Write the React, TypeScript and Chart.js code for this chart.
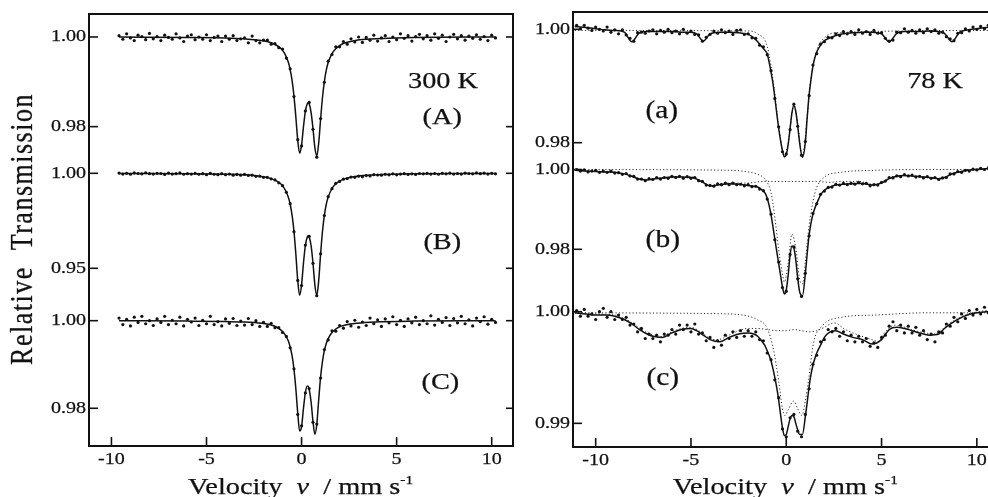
import React, { useEffect, useRef } from "react";
import { Chart, registerables } from "chart.js";

Chart.register(...registerables);

// ---------------- data: 300 K (left panel) ----------------
const VEL_300K = [
  -9.6, -9.4, -9.2, -9, -8.8, -8.6, -8.4, -8.2, -8, -7.8,
  -7.6, -7.4, -7.2, -7, -6.8, -6.6, -6.4, -6.2, -6, -5.8,
  -5.6, -5.4, -5.2, -5, -4.8, -4.6, -4.4, -4.2, -4, -3.8,
  -3.6, -3.4, -3.2, -3, -2.8, -2.6, -2.4, -2.2, -2, -1.8,
  -1.6, -1.4, -1.2, -1, -0.8, -0.6, -0.4, -0.2, 0, 0.2,
  0.4, 0.6, 0.8, 1, 1.2, 1.4, 1.6, 1.8, 2, 2.2,
  2.4, 2.6, 2.8, 3, 3.2, 3.4, 3.6, 3.8, 4, 4.2,
  4.4, 4.6, 4.8, 5, 5.2, 5.4, 5.6, 5.8, 6, 6.2,
  6.4, 6.6, 6.8, 7, 7.2, 7.4, 7.6, 7.8, 8, 8.2,
  8.4, 8.6, 8.8, 9, 9.2, 9.4, 9.6, 9.8, 10, 10.2,
];
const A_OBS = [
  1.0003, 0.9995, 1.0007, 0.9998, 0.9992, 1.0004, 1.0001, 0.9994, 1.0008, 0.9996,
  1.0001, 0.9992, 1.0004, 0.9999, 0.9995, 1.0007, 0.9998, 0.999, 1.0002, 1.0005,
  0.9994, 1.0, 0.9995, 1.0005, 0.9992, 0.9999, 1.0002, 0.999, 1.0002, 0.9995,
  1.0003, 0.9992, 0.9996, 0.9998, 0.9987, 1.0002, 0.9992, 0.9987, 0.9993, 0.9993,
  0.9984, 0.9985, 0.9976, 0.9973, 0.9953, 0.9929, 0.9867, 0.9771, 0.9757, 0.9835,
  0.9854, 0.9794, 0.9732, 0.9818, 0.9899, 0.9946, 0.9961, 0.9978, 0.9978, 0.999,
  0.9984, 0.9996, 0.9989, 1.0, 0.9988, 0.9999, 0.9993, 1.0004, 0.9991, 0.9998,
  1.0003, 0.999, 1.0, 0.9994, 1.0007, 0.9997, 1.0003, 0.9991, 1.0001, 1.0006,
  0.9996, 1.0003, 0.9993, 1.0007, 0.9997, 1.0004, 0.999, 1.0, 1.0006, 0.9996,
  1.0003, 0.9993, 1.0002, 0.9997, 1.0005, 0.9995, 1.0001, 0.9992, 1.0004, 0.9998,
];
const B_OBS = [
  1.0001, 0.9996, 1.0, 0.9995, 1.0002, 0.9999, 0.9997, 1.0003, 0.9998, 0.9996,
  1.0, 0.9999, 0.9994, 1.0001, 0.9996, 0.9998, 1.0002, 0.9995, 0.9998, 0.9996,
  1.0, 0.9995, 0.9998, 0.9993, 1.0, 0.9995, 0.9993, 0.9998, 0.9993, 0.9996,
  0.999, 0.9994, 0.999, 0.9994, 0.9989, 0.999, 0.9984, 0.9985, 0.9979, 0.9979,
  0.9971, 0.9965, 0.995, 0.9935, 0.99, 0.984, 0.9693, 0.9436, 0.9409, 0.9622,
  0.9668, 0.9526, 0.9356, 0.9576, 0.9778, 0.9877, 0.9919, 0.9947, 0.9957, 0.9969,
  0.9972, 0.998, 0.9979, 0.9985, 0.9982, 0.9988, 0.9986, 0.9993, 0.9991, 0.999,
  0.9995, 0.9992, 0.9997, 0.9992, 0.9996, 0.9998, 0.9994, 0.9997, 0.9994, 0.9999,
  0.9997, 1.0, 0.9996, 0.9999, 0.9995, 1.0, 0.9997, 1.0001, 0.9996, 0.9999,
  0.9996, 1.0001, 0.9999, 0.9997, 1.0002, 0.9998, 1.0001, 0.9996, 1.0, 0.9997,
];
const C_OBS = [
  1.0006, 0.9991, 1.0003, 0.9988, 1.0008, 0.9996, 1.001, 0.9993, 1.0, 0.9989,
  1.0004, 0.9996, 1.001, 0.9991, 1.0001, 0.9993, 1.0008, 0.9988, 1.0003, 0.9997,
  1.0006, 0.9989, 1.0001, 0.9993, 1.001, 0.9991, 0.9998, 0.9988, 1.0004, 0.9994,
  1.0005, 0.9989, 0.9999, 0.999, 1.0005, 0.9991, 1.0, 0.9987, 0.9996, 0.9987,
  0.9994, 0.9984, 0.9984, 0.9973, 0.9964, 0.9938, 0.989, 0.9786, 0.976, 0.9835,
  0.9845, 0.9768, 0.9764, 0.9869, 0.9934, 0.9956, 0.9977, 0.9976, 0.9989, 0.9983,
  0.9998, 0.9988, 1.0001, 0.9985, 0.9997, 0.9989, 1.0006, 0.9993, 1.0002, 0.9987,
  1.0004, 0.9995, 1.0009, 0.9991, 1.0001, 0.9987, 1.0004, 0.9995, 1.0008, 0.9991,
  1.0, 0.9993, 1.0011, 0.999, 1.0003, 0.9996, 1.0007, 0.9989, 1.0005, 0.9995,
  1.001, 0.9993, 1.0002, 0.9988, 1.0006, 0.9998, 1.0009, 0.9992, 1.0003, 0.9996,
];
const FIT_VEL_300K = [
  -9.6, -6, -4, -3, -2.1, -1.6, -1.3, -1.1, -0.9, -0.7, -0.6, -0.5, -0.4, -0.3, -0.2, -0.1, 0, 0.1, 0.2, 0.3,
  0.35, 0.4, 0.5, 0.6, 0.7, 0.8, 0.9, 1, 1.1, 1.2, 1.3, 1.4, 1.6, 1.8, 2, 2.3, 2.9, 3.9, 5.9, 10.2,
];
const A_FIT = [
  1.0, 0.9999, 0.9998, 0.9996, 0.9992, 0.9987, 0.9981, 0.9975, 0.9964, 0.9944, 0.9927, 0.9903, 0.9868, 0.9821, 0.9769, 0.9741, 0.9759, 0.98, 0.9834, 0.9851,
  0.9853, 0.9851, 0.9832, 0.9796, 0.9753, 0.9735, 0.9763, 0.9816, 0.9865, 0.9901, 0.9926, 0.9943, 0.9963, 0.9974, 0.9981, 0.9987, 0.9993, 0.9996, 0.9999, 1.0,
];
const B_FIT = [
  0.9999, 0.9998, 0.9995, 0.9992, 0.9983, 0.9972, 0.9959, 0.9945, 0.992, 0.9875, 0.9837, 0.978, 0.9695, 0.9573, 0.9434, 0.9358, 0.9412, 0.9528, 0.962, 0.9665,
  0.9671, 0.9665, 0.962, 0.9528, 0.9412, 0.9358, 0.9434, 0.9573, 0.9695, 0.978, 0.9837, 0.9875, 0.992, 0.9945, 0.9959, 0.9972, 0.9985, 0.9992, 0.9997, 0.9999,
];
const C_FIT = [
  1.0, 0.9999, 0.9998, 0.9997, 0.9994, 0.999, 0.9985, 0.9979, 0.997, 0.9954, 0.994, 0.992, 0.9889, 0.9844, 0.9788, 0.9748, 0.9758, 0.98, 0.9836, 0.9851,
  0.985, 0.9843, 0.9815, 0.977, 0.9741, 0.9763, 0.9819, 0.9871, 0.9907, 0.9932, 0.9948, 0.9959, 0.9973, 0.9981, 0.9986, 0.999, 0.9994, 0.9997, 0.9999, 1.0,
];

// ---------------- data: 78 K (right panel) ----------------
const VEL_78K = [
  -11, -10.8, -10.6, -10.4, -10.2, -10, -9.8, -9.6, -9.4, -9.2,
  -9, -8.8, -8.6, -8.4, -8.2, -8, -7.8, -7.6, -7.4, -7.2,
  -7, -6.8, -6.6, -6.4, -6.2, -6, -5.8, -5.6, -5.4, -5.2,
  -5, -4.8, -4.6, -4.4, -4.2, -4, -3.8, -3.6, -3.4, -3.2,
  -3, -2.8, -2.6, -2.4, -2.2, -2, -1.8, -1.6, -1.4, -1.2,
  -1, -0.8, -0.6, -0.4, -0.2, 0, 0.2, 0.4, 0.6, 0.8,
  1, 1.2, 1.4, 1.6, 1.8, 2, 2.2, 2.4, 2.6, 2.8,
  3, 3.2, 3.4, 3.6, 3.8, 4, 4.2, 4.4, 4.6, 4.8,
  5, 5.2, 5.4, 5.6, 5.8, 6, 6.2, 6.4, 6.6, 6.8,
  7, 7.2, 7.4, 7.6, 7.8, 8, 8.2, 8.4, 8.6, 8.8,
  9, 9.2, 9.4, 9.6, 9.8, 10, 10.2, 10.4, 10.6, 10.8,
];
const a_OBS = [
  1.0007, 1.0001, 1.0007, 1.0002, 0.9998, 1.0004, 1.0, 0.9997, 1.0004, 0.9995,
  0.9999, 0.9992, 0.9999, 0.999, 0.9984, 0.9979, 0.9994, 0.9995, 0.9993, 0.9997,
  0.9999, 0.9992, 0.9998, 0.9995, 1.0, 0.9994, 0.9997, 0.9992, 1.0, 0.9993,
  0.9997, 0.9991, 0.999, 0.9979, 0.9986, 0.9991, 0.9997, 0.9993, 0.9999, 0.9994,
  0.9997, 0.9991, 0.9998, 0.9999, 0.9991, 0.9992, 0.9985, 0.9984, 0.9972, 0.9969,
  0.9955, 0.9927, 0.9878, 0.9828, 0.9784, 0.978, 0.9823, 0.9868, 0.9829, 0.9778,
  0.9802, 0.9883, 0.9937, 0.9957, 0.9974, 0.9978, 0.9986, 0.9985, 0.9992, 0.9989,
  0.9996, 0.9992, 0.9996, 0.9991, 0.9999, 0.9993, 0.9996, 0.9991, 0.9998, 0.9993,
  0.9994, 0.9984, 0.9979, 0.9981, 0.9995, 0.9994, 1.0001, 0.9995, 0.9998, 0.9993,
  0.9999, 0.9994, 1.0001, 0.9996, 0.9999, 0.9993, 0.9995, 0.9987, 0.9983, 0.998,
  0.9993, 0.9994, 1.0001, 0.9997, 1.0004, 1.0, 1.0005, 1.0001, 1.0007, 1.0005,
];
const b_OBS = [
  1.0, 0.9996, 0.9999, 0.9994, 0.9996, 0.9998, 0.9993, 0.9996, 0.9993, 0.9996,
  0.9991, 0.9992, 0.9988, 0.999, 0.9984, 0.9983, 0.9976, 0.9976, 0.9972, 0.9977,
  0.9975, 0.998, 0.9976, 0.998, 0.9978, 0.9983, 0.998, 0.9983, 0.9978, 0.9982,
  0.9978, 0.998, 0.9972, 0.997, 0.9961, 0.996, 0.9958, 0.9964, 0.9962, 0.9966,
  0.9962, 0.9966, 0.9962, 0.9963, 0.9959, 0.9962, 0.9957, 0.9958, 0.9951, 0.9947,
  0.9926, 0.9888, 0.9824, 0.9768, 0.9704, 0.9695, 0.9787, 0.9806, 0.9726, 0.9682,
  0.974, 0.9834, 0.989, 0.9914, 0.9938, 0.9946, 0.9955, 0.9956, 0.9963, 0.9961,
  0.9965, 0.9962, 0.9965, 0.9963, 0.9968, 0.9964, 0.9965, 0.9959, 0.9962, 0.9961,
  0.9968, 0.9971, 0.998, 0.9979, 0.9984, 0.9982, 0.9987, 0.9984, 0.9986, 0.9981,
  0.9983, 0.9979, 0.9982, 0.9978, 0.998, 0.9975, 0.9979, 0.998, 0.9989, 0.9989,
  0.9995, 0.9993, 0.9998, 0.9996, 1.0001, 0.9999, 1.0003, 1.0, 1.0004, 1.0002,
];
const c_OBS = [
  1.0001, 0.9996, 1.0002, 0.9996, 0.9998, 0.9993, 1.0, 1.0003, 0.9995, 1.0,
  0.9993, 0.9997, 0.9993, 0.9995, 0.9988, 0.9989, 0.9982, 0.9985, 0.9976, 0.998,
  0.9976, 0.9979, 0.9973, 0.998, 0.9979, 0.9984, 0.998, 0.9988, 0.9984, 0.9988,
  0.9982, 0.9989, 0.998, 0.9981, 0.9974, 0.9977, 0.9968, 0.9974, 0.997, 0.9979,
  0.9976, 0.9982, 0.9977, 0.9983, 0.9978, 0.9983, 0.9978, 0.9982, 0.9975, 0.9974,
  0.9963, 0.9957, 0.9939, 0.9923, 0.9895, 0.9888, 0.9905, 0.9908, 0.9893, 0.9888,
  0.9908, 0.9931, 0.9953, 0.9961, 0.9973, 0.9975, 0.9984, 0.9982, 0.9985, 0.9978,
  0.9982, 0.9974, 0.9979, 0.9973, 0.9978, 0.9973, 0.9976, 0.9969, 0.9972, 0.9968,
  0.9977, 0.9979, 0.9987, 0.9991, 0.9983, 0.9988, 0.9981, 0.9987, 0.9981, 0.9986,
  0.9979, 0.9983, 0.9975, 0.998, 0.9973, 0.9982, 0.9981, 0.9989, 0.9987, 0.9995,
  0.9991, 0.9998, 0.9994, 1.0001, 0.9997, 1.0002, 0.9998, 1.0004, 0.9999, 1.0004,
];
const FIT_VEL_78K = [
  -11.1, -10.5, -10, -9.5, -9, -8.5, -8.1, -7.7, -7.3, -7, -6.5, -6, -5.5, -5, -4.7, -4.35, -4, -3.5, -3, -2.5,
  -2, -1.7, -1.5, -1.3, -1.1, -1, -0.9, -0.8, -0.7, -0.6, -0.5, -0.4, -0.3, -0.2, -0.1, 0, 0.1, 0.2, 0.3, 0.4,
  0.5, 0.6, 0.7, 0.85, 1, 1.1, 1.2, 1.3, 1.4, 1.5, 1.6, 1.8, 2, 2.3, 2.6, 3, 3.5, 4, 4.5, 5,
  5.4, 5.8, 6.2, 6.6, 7, 7.5, 8, 8.3, 8.7, 9.1, 9.5, 10, 10.5, 11.1,
];
const a_FIT = [
  1.0005, 1.0003, 1.0001, 0.9999, 0.9998, 0.9995, 0.9978, 0.9994, 0.9996, 0.9996, 0.9996, 0.9996, 0.9995, 0.9995, 0.9992, 0.9979, 0.9992, 0.9995, 0.9995, 0.9994,
  0.9991, 0.9985, 0.9978, 0.997, 0.9962, 0.9957, 0.9942, 0.9925, 0.9905, 0.988, 0.9852, 0.9826, 0.9804, 0.9786, 0.9775, 0.9779, 0.9797, 0.9825, 0.9853, 0.9865,
  0.9855, 0.983, 0.98, 0.9774, 0.98, 0.9845, 0.9885, 0.9912, 0.9935, 0.995, 0.996, 0.9972, 0.998, 0.9985, 0.9989, 0.9992, 0.9994, 0.9995, 0.9995, 0.9992,
  0.9978, 0.9993, 0.9996, 0.9996, 0.9996, 0.9997, 0.9996, 0.9993, 0.9978, 0.9995, 0.9999, 1.0001, 1.0003, 1.0004,
];
const b_FIT = [
  0.9998, 0.9996, 0.9995, 0.9994, 0.9993, 0.9989, 0.9983, 0.9976, 0.9974, 0.9976, 0.9979, 0.9981, 0.9981, 0.998, 0.9976, 0.9967, 0.9959, 0.9962, 0.9964, 0.9963,
  0.996, 0.9958, 0.9956, 0.995, 0.994, 0.9928, 0.991, 0.9886, 0.9857, 0.9826, 0.9795, 0.9765, 0.9735, 0.9706, 0.9688, 0.9698, 0.9735, 0.9785, 0.9808, 0.9803,
  0.9773, 0.9728, 0.9694, 0.9683, 0.9738, 0.979, 0.9836, 0.9866, 0.9888, 0.9903, 0.9915, 0.9936, 0.9948, 0.9956, 0.9961, 0.9963, 0.9965, 0.9965, 0.9961, 0.9966,
  0.9977, 0.9983, 0.9985, 0.9984, 0.9982, 0.998, 0.9977, 0.998, 0.9989, 0.9994, 0.9998, 1.0, 1.0002, 1.0003,
];
const c_FIT = [
  0.9999, 0.9998, 0.9997, 0.9997, 0.9996, 0.9993, 0.9989, 0.9984, 0.998, 0.9978, 0.9977, 0.9981, 0.9984, 0.9985, 0.9983, 0.9979, 0.9975, 0.9973, 0.9977, 0.998,
  0.9981, 0.998, 0.9978, 0.9974, 0.9969, 0.9965, 0.9961, 0.9956, 0.9949, 0.9941, 0.9932, 0.9921, 0.9908, 0.9896, 0.9889, 0.989, 0.9897, 0.9904, 0.9907, 0.9906,
  0.99, 0.9894, 0.989, 0.989, 0.9906, 0.9919, 0.9933, 0.9944, 0.9952, 0.9958, 0.9963, 0.997, 0.9977, 0.9982, 0.9983, 0.998, 0.9977, 0.9975, 0.9971, 0.9975,
  0.9984, 0.9986, 0.9985, 0.9983, 0.9981, 0.9979, 0.998, 0.9985, 0.999, 0.9994, 0.9997, 0.9999, 1.0, 1.0001,
];
// fitted sub-spectra (dotted): paramagnetic doublet and magnetic sextet components
const a_DOUBLET_VEL = [-11.1, -2, -1.5, -1, -0.7, -0.4, -0.1, 0.1, 0.4, 0.6, 0.85, 1.1, 1.3, 1.6, 2, 2.6, 11.1];
const a_DOUBLET = [0.9998, 0.9997, 0.9992, 0.997, 0.9912, 0.983, 0.9778, 0.9799, 0.9867, 0.9832, 0.9776, 0.9847, 0.9915, 0.9963, 0.9985, 0.9994, 0.9998];
const b_DOUBLET_VEL = [-11.1, -3, -2, -1.5, -1.2, -1, -0.8, -0.6, -0.4, -0.2, -0.1, 0.1, 0.3, 0.5, 0.7, 0.85, 1, 1.2, 1.4, 1.6, 2, 2.9, 4.7, 8.2, 11.1];
const b_DOUBLET = [1.0, 0.9998, 0.9994, 0.9988, 0.998, 0.9968, 0.9942, 0.988, 0.98, 0.9738, 0.9718, 0.9765, 0.9838, 0.9803, 0.9725, 0.9713, 0.977, 0.986, 0.992, 0.9955, 0.9981, 0.9993, 0.9998, 1.0, 1.0];
const b_SEXTET_VEL = [-11.1, -10, -9, -8.5, -8, -7.5, -7, -6, -5, -4.5, -4, -3.5, -3, -2.5, -2, -1.5, -1, -0.5, 0.4, 1.4, 1.9, 2.3, 2.9, 3.8, 4.66, 5.36, 6.07, 7.3, 8.18, 8.7, 9.55, 10.3, 11.1];
const b_SEXTET = [0.9998, 0.9995, 0.9993, 0.9989, 0.9981, 0.9974, 0.9977, 0.9981, 0.9982, 0.9972, 0.9959, 0.9965, 0.9966, 0.9966, 0.9966, 0.9969, 0.997, 0.997, 0.997, 0.997, 0.9969, 0.9968, 0.997, 0.997, 0.9962, 0.9978, 0.9985, 0.9981, 0.9977, 0.9989, 0.9998, 1.0002, 1.0003];
const c_DOUBLET_VEL = [-11.1, -3, -2, -1.54, -1, -0.67, -0.4, -0.2, -0.07, 0.1, 0.38, 0.6, 0.82, 1, 1.17, 1.43, 1.87, 2.9, 4.66, 7.3, 11.1];
const c_DOUBLET = [0.9999, 0.9998, 0.9996, 0.9993, 0.9985, 0.9966, 0.9938, 0.9913, 0.9907, 0.9912, 0.992, 0.9913, 0.9907, 0.992, 0.9939, 0.9972, 0.9987, 0.9995, 0.9997, 0.9999, 0.9999];
const c_SEXTET_VEL = [-11.1, -10, -9, -8.5, -8, -7.5, -7, -6.8, -6.5, -6, -5.5, -5, -4.5, -4, -3.6, -3, -2.5, -2, -1.5, -1, -0.5, 0, 0.4, 0.8, 1.2, 1.6, 2, 2.5, 3.1, 3.8, 4.66, 4.8, 5.2, 5.7, 6.76, 7.8, 8.5, 9.4, 10.45, 11.1];
const c_SEXTET = [1.0, 0.9998, 0.9997, 0.9994, 0.9989, 0.9983, 0.9979, 0.9977, 0.9978, 0.9982, 0.9985, 0.9986, 0.9982, 0.9976, 0.9975, 0.9979, 0.9983, 0.9985, 0.9985, 0.9984, 0.9983, 0.9983, 0.9984, 0.9983, 0.9982, 0.9983, 0.9986, 0.999, 0.9984, 0.9979, 0.9974, 0.9973, 0.9982, 0.9988, 0.9983, 0.998, 0.9989, 0.9997, 1.0001, 1.0002];

// ---------------- tick labels ----------------
const X_TICKS = [-10, -5, 0, 5, 10];
const TICKS_A = [1.0, 0.98];
const TICKS_B = [1.0, 0.95];
const TICKS_C = [1.0, 0.98];
const TICKS_a = [1.0, 0.98];
const TICKS_b = [1.0, 0.98];
const TICKS_c = [1.0, 0.99];

// ---------------- styling / layout ----------------
const SERIF = '"Liberation Serif", "Times New Roman", "DejaVu Serif", serif';
const INK = "#111111";
const STRETCH = 1.18;

type Curve = { vel: number[]; val: number[] };
type Spectrum = {
  id: string;
  ticks: number[];
  range: [number, number];
  stackWeight: number;
  obs: Curve;
  fit: Curve;
  dotted: Curve[];
};
type Note = { text: string; v: number; t: number; axis: string; size: number };
type Panel = {
  width: number;
  xRange: [number, number];
  yAxisWidth: number;
  xAxisHeight: number;
  padding: { left: number; right: number; top: number; bottom: number };
  spectra: Spectrum[];
  notes: Note[];
  yTitle: boolean;
  rightTicks: boolean;
};

const PANEL_300K: Panel = {
  width: 520,
  xRange: [-11.18, 11.12],
  yAxisWidth: 89,
  xAxisHeight: 51,
  padding: { left: 0, right: 7, top: 14, bottom: 0 },
  yTitle: true,
  rightTicks: true,
  spectra: [
    { id: "yA", ticks: TICKS_A, range: [0.97256, 1.00513], stackWeight: 146,
      obs: { vel: VEL_300K, val: A_OBS }, fit: { vel: FIT_VEL_300K, val: A_FIT }, dotted: [] },
    { id: "yB", ticks: TICKS_B, range: [0.93068, 1.007], stackWeight: 145,
      obs: { vel: VEL_300K, val: B_OBS }, fit: { vel: FIT_VEL_300K, val: B_FIT }, dotted: [] },
    { id: "yC", ticks: TICKS_C, range: [0.97139, 1.00358], stackWeight: 141,
      obs: { vel: VEL_300K, val: C_OBS }, fit: { vel: FIT_VEL_300K, val: C_FIT }, dotted: [] },
  ],
  notes: [
    { text: "300 K", v: 7.44, t: 0.98996, axis: "yA", size: 24 },
    { text: "(A)", v: 7.4, t: 0.98193, axis: "yA", size: 24 },
    { text: "(B)", v: 7.4, t: 0.96332, axis: "yB", size: 24 },
    { text: "(C)", v: 7.3, t: 0.98578, axis: "yC", size: 24 },
  ],
};

const PANEL_78K: Panel = {
  width: 490,
  xRange: [-11.19, 11.11],
  yAxisWidth: 53,
  xAxisHeight: 50,
  padding: { left: 0, right: 12, top: 12, bottom: 0 },
  yTitle: false,
  rightTicks: true,
  spectra: [
    { id: "ya", ticks: TICKS_a, range: [0.97642, 1.00305], stackWeight: 151,
      obs: { vel: VEL_78K, val: a_OBS }, fit: { vel: FIT_VEL_78K, val: a_FIT },
      dotted: [{ vel: a_DOUBLET_VEL, val: a_DOUBLET }] },
    { id: "yb", ticks: TICKS_b, range: [0.96654, 1.00163], stackWeight: 140,
      obs: { vel: VEL_78K, val: b_OBS }, fit: { vel: FIT_VEL_78K, val: b_FIT },
      dotted: [{ vel: b_DOUBLET_VEL, val: b_DOUBLET }, { vel: b_SEXTET_VEL, val: b_SEXTET }] },
    { id: "yc", ticks: TICKS_c, range: [0.98788, 1.00078], stackWeight: 144,
      obs: { vel: VEL_78K, val: c_OBS }, fit: { vel: FIT_VEL_78K, val: c_FIT },
      dotted: [{ vel: c_DOUBLET_VEL, val: c_DOUBLET }, { vel: c_SEXTET_VEL, val: c_SEXTET }] },
  ],
  notes: [
    { text: "78 K", v: 7.81, t: 0.99071, axis: "ya", size: 24 },
    { text: "(a)", v: -6.53, t: 0.98559, axis: "ya", size: 25 },
    { text: "(b)", v: -6.48, t: 0.98233, axis: "yb", size: 25 },
    { text: "(c)", v: -6.48, t: 0.99406, axis: "yc", size: 25 },
  ],
};

const toPoints = (c: Curve) => c.vel.map((v, i) => ({ x: v, y: c.val[i] }));

function drawStretched(
  ctx: CanvasRenderingContext2D, text: string, x: number, y: number, size: number,
  align: CanvasTextAlign, baseline: CanvasTextBaseline, italic = false,
) {
  ctx.save();
  ctx.font = `${italic ? "italic " : ""}${size}px ${SERIF}`;
  ctx.textAlign = align;
  ctx.textBaseline = baseline;
  ctx.fillStyle = INK;
  ctx.strokeStyle = INK;
  ctx.lineWidth = 0.25;
  ctx.translate(x, y);
  ctx.scale(STRETCH, 1);
  ctx.fillText(text, 0, 0);
  ctx.strokeText(text, 0, 0);
  ctx.restore();
}

const TITLE_PARTS = [
  { text: "Velocity  ", italic: false, sup: false },
  { text: "v", italic: true, sup: false },
  { text: "  / mm s", italic: false, sup: false },
  { text: "-1", italic: false, sup: true },
];

function drawXTitle(ctx: CanvasRenderingContext2D, cx: number, baseline: number) {
  const size = 24;
  ctx.save();
  const widths = TITLE_PARTS.map((p) => {
    ctx.font = `${p.italic ? "italic " : ""}${p.sup ? 13 : size}px ${SERIF}`;
    return ctx.measureText(p.text).width;
  });
  const total = widths.reduce((s, w) => s + w, 0) * STRETCH;
  let x = cx - total / 2;
  TITLE_PARTS.forEach((p, i) => {
    drawStretched(ctx, p.text, x, p.sup ? baseline - 10 : baseline, p.sup ? 13 : size, "left", "alphabetic", p.italic);
    x += widths[i] * STRETCH;
  });
  ctx.restore();
}

function decorPlugin(panel: Panel) {
  return {
    id: "decor",
    afterDraw(chart: any) {
      const ctx: CanvasRenderingContext2D = chart.ctx;
      const a = chart.chartArea;
      const xs = chart.scales.x;
      ctx.save();
      ctx.strokeStyle = INK;
      ctx.lineWidth = 2;
      ctx.strokeRect(a.left, a.top, a.right - a.left, a.bottom - a.top);

      const seg = (x1: number, y1: number, x2: number, y2: number) => {
        ctx.beginPath();
        ctx.moveTo(x1, y1);
        ctx.lineTo(x2, y2);
        ctx.stroke();
      };
      ctx.lineWidth = 1.6;
      for (const v of X_TICKS) {
        const px = xs.getPixelForValue(v);
        seg(px, a.bottom, px, a.bottom - 9);
        drawStretched(ctx, String(v), px, a.bottom + 14, 17, "center", "middle");
      }
      for (const s of panel.spectra) {
        const sc = chart.scales[s.id];
        for (const t of s.ticks) {
          const py = sc.getPixelForValue(t);
          seg(a.left, py, a.left + 9, py);
          if (panel.rightTicks) seg(a.right, py, a.right - 7, py);
          drawStretched(ctx, t.toFixed(2), a.left - 3, py, 17, "right", "middle");
        }
      }
      for (const n of panel.notes) {
        const sc = chart.scales[n.axis];
        drawStretched(ctx, n.text, xs.getPixelForValue(n.v), sc.getPixelForValue(n.t), n.size, "center", "middle");
      }
      drawXTitle(ctx, xs.getPixelForValue(0) - 1, 494);

      if (panel.yTitle) {
        ctx.save();
        ctx.translate(24, 229);
        ctx.rotate(-Math.PI / 2);
        ctx.scale(1, STRETCH);
        ctx.font = `26px ${SERIF}`;
        (ctx as any).letterSpacing = "1.5px";
        ctx.fillStyle = INK;
        ctx.strokeStyle = INK;
        ctx.lineWidth = 0.25;
        ctx.textAlign = "center";
        ctx.textBaseline = "middle";
        ctx.fillText("Relative  Transmission", 0, 0);
        ctx.strokeText("Relative  Transmission", 0, 0);
        ctx.restore();
      }
      ctx.restore();
    },
  };
}

function buildConfig(panel: Panel): any {
  const datasets: any[] = [];
  panel.spectra.forEach((s) => {
    datasets.push({
      data: toPoints(s.obs), xAxisID: "x", yAxisID: s.id, showLine: false,
      pointRadius: 1.6, pointBackgroundColor: INK, pointBorderWidth: 0, order: 0,
    });
    datasets.push({
      data: toPoints(s.fit), xAxisID: "x", yAxisID: s.id, showLine: true, pointRadius: 0,
      borderColor: INK, borderWidth: 1.5, cubicInterpolationMode: "monotone", order: 1,
    });
    s.dotted.forEach((d) =>
      datasets.push({
        data: toPoints(d), xAxisID: "x", yAxisID: s.id, showLine: true, pointRadius: 0,
        borderColor: "#2a2a2a", borderWidth: 1, borderDash: [1.2, 2.2],
        cubicInterpolationMode: "monotone", order: 2,
      }),
    );
  });

  const scales: any = {
    x: {
      type: "linear", position: "bottom", min: panel.xRange[0], max: panel.xRange[1],
      grid: { display: false, drawTicks: false }, border: { display: false },
      ticks: { display: false },
      afterFit: (sc: any) => { sc.height = panel.xAxisHeight; },
    },
  };
  panel.spectra.forEach((s, i) => {
    scales[s.id] = {
      type: "linear", position: "left", stack: "spectra", stackWeight: s.stackWeight,
      weight: panel.spectra.length - i, min: s.range[0], max: s.range[1],
      grid: { display: false, drawTicks: false }, border: { display: false },
      ticks: { display: false },
      afterFit: (sc: any) => { sc.width = panel.yAxisWidth; },
    };
  });

  return {
    type: "scatter",
    data: { datasets },
    options: {
      responsive: false,
      animation: false,
      devicePixelRatio: 1,
      events: [],
      layout: { padding: panel.padding, autoPadding: false },
      plugins: { legend: { display: false }, tooltip: { enabled: false }, title: { display: false } },
      scales,
    },
    plugins: [decorPlugin(panel)],
  };
}

export default function App() {
  const leftRef = useRef<HTMLCanvasElement | null>(null);
  const rightRef = useRef<HTMLCanvasElement | null>(null);

  useEffect(() => {
    const charts: Chart[] = [];
    if (leftRef.current) charts.push(new Chart(leftRef.current, buildConfig(PANEL_300K)));
    if (rightRef.current) charts.push(new Chart(rightRef.current, buildConfig(PANEL_78K)));
    return () => charts.forEach((c) => c.destroy());
  }, []);

  return (
    <div style={{ position: "absolute", left: 0, top: 0, width: 988, height: 497, overflow: "hidden", background: "#fff" }}>
      <canvas ref={leftRef} width={PANEL_300K.width} height={497}
        style={{ position: "absolute", left: 0, top: 0, width: PANEL_300K.width, height: 497 }} />
      <canvas ref={rightRef} width={PANEL_78K.width} height={497}
        style={{ position: "absolute", left: 520, top: 0, width: PANEL_78K.width, height: 497 }} />
    </div>
  );
}
